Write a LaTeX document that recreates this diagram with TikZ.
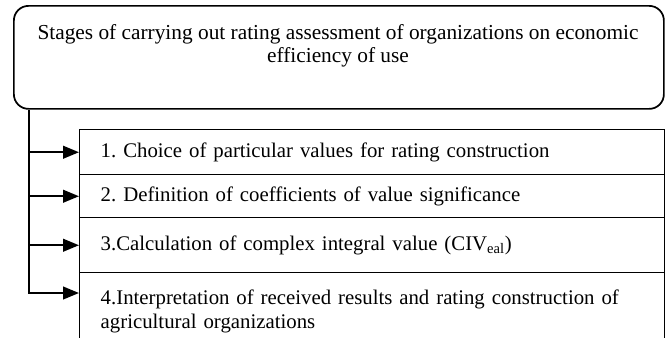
\documentclass[tikz,border=0pt]{standalone}
\usepackage{fontspec}
\setmainfont{Liberation Serif}
\usetikzlibrary{arrows.meta,calc}

\tikzset{
  stagebox/.style={draw, line width=1.1pt, anchor=north west,
    minimum width=438.75pt, text width=407.25pt, inner xsep=15.75pt,
    inner ysep=0pt, align=left, font=\fontsize{15.6}{17.4}\selectfont},
  feed/.style={line width=1.6pt, -{Triangle[length=12pt,width=9.5pt]}}
}

\begin{document}
\frenchspacing
\begin{tikzpicture}[x=0.75pt,y=-0.75pt]
\useasboundingbox (0,0) rectangle (670,337);
\clip (0,0) rectangle (670,337);

% title box with its text near the top
\node[draw, line width=1.3pt, rounded corners=11pt, anchor=north west,
  minimum width=487.5pt, minimum height=77.25pt] (titlebox) at (13,5) {};
\node[align=center, font=\fontsize{16}{17.4}\selectfont] (titletext) at (338,46)
  {Stages of carrying out rating assessment of organizations on economic\\efficiency of use};

% the four stages
\node[stagebox, minimum height=33.75pt] (s1) at (79,129)
  {1. Choice of particular values for rating construction};
\node[stagebox, minimum height=32.25pt] (s2) at (79,174)
  {2. Definition of coefficients of value significance};
\node[stagebox, minimum height=41.25pt] (s3) at (79,217)
  {3.Calculation of complex integral value (CIV\textsubscript{eal})};
\node[stagebox, minimum height=58pt] (s4) at (79,272)
  {\makebox[\linewidth][s]{4.Interpretation of received results and rating construction of}\\
   agricultural organizations};

% trunk under the title box and the arrows into the stages
\coordinate (trunk) at ($(titlebox.south west)+(16,0)$);
\coordinate (in4) at ($(s4.north west)+(0,21)$);
\draw[feed] (trunk |- s1.west) -- (s1.west);
\draw[feed] (trunk |- s2.west) -- (s2.west);
\draw[feed] (trunk |- s3.west) -- (s3.west);
\draw[feed] (trunk) |- (in4);
\end{tikzpicture}
\end{document}
